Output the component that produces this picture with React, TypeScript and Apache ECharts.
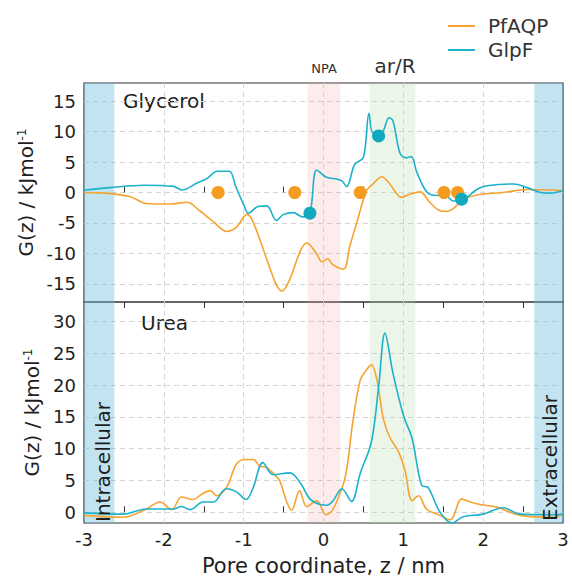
import React, { useEffect, useRef } from "react";
import * as echarts from "echarts";

// ---------- tick labels ----------
const xTickLabels = [-3, -2, -1, 0, 1, 2, 3];
const xGridValues = [-2, -1, 0, 1, 2];
const glyYTicks = [-15, -10, -5, 0, 5, 10, 15];
const ureaYTicks = [0, 5, 10, 15, 20, 25, 30];

// ---------- Glycerol, PfAQP ----------
const glyPfZ = [-3.0, -2.74, -2.42, -2.22, -1.92, -1.71, -1.55, -1.38, -1.21, -1.09, -0.96, -0.88, -0.71, -0.59, -0.52, -0.42, -0.29, -0.21, -0.085, -0.02, 0.05, 0.12, 0.25, 0.33, 0.42, 0.54, 0.62, 0.73, 0.83, 0.98, 1.08, 1.21, 1.33, 1.46, 1.55, 1.63, 1.75, 1.92, 2.25, 2.55, 2.88, 3.0];
const glyPfG = [0, -0.1, -0.7, -1.8, -1.9, -1.6, -3.0, -4.8, -6.4, -5.7, -3.6, -4.9, -11.0, -15.2, -16.2, -14.2, -9.6, -8.3, -10.1, -11.4, -10.9, -11.9, -12.6, -8.8, -4.8, 0.3, 1.4, 2.6, 1.4, -0.8, -0.3, 0.1, -1.6, -3.0, -3.1, -2.6, -1.2, -0.4, 0, 0.5, 0.4, 0.3];

// ---------- Glycerol, GlpF ----------
const glyGlpZ = [-3.0, -2.68, -2.25, -1.88, -1.77, -1.58, -1.46, -1.33, -1.18, -1.1, -1.0, -0.94, -0.82, -0.71, -0.59, -0.5, -0.38, -0.26, -0.17, -0.085, 0.04, 0.17, 0.23, 0.29, 0.39, 0.5, 0.57, 0.62, 0.73, 0.82, 0.87, 0.96, 1.04, 1.1, 1.17, 1.3, 1.43, 1.5, 1.63, 1.73, 1.92, 2.05, 2.38, 2.55, 2.72, 2.84, 3.0];
const glyGlpG = [0.4, 0.8, 1.2, 1.0, 0.4, 1.6, 2.3, 3.5, 3.5, 1.0, -2.0, -3.4, -2.3, -2.2, -4.6, -3.6, -3.3, -4.0, -3.4, 3.7, 2.5, 2.2, 1.9, 1.0, 4.6, 5.8, 13.0, 9.8, 9.9, 12.3, 11.8, 6.4, 5.7, 5.9, 3.3, 0, -0.5, -0.1, -1.4, -1.3, 0.5, 1.1, 1.4, 0.8, 0, -0.1, 0.3];

// ---------- Glycerol binding sites (dots) ----------
const glySitePfZ = [-1.32, -0.36, 0.46, 1.51, 1.68];
const glySitePfG = [0, 0, 0, 0, 0];
const glySiteGlpZ = [-0.17, 0.69, 1.73];
const glySiteGlpG = [-3.4, 9.3, -1.1];

// ---------- Urea, PfAQP ----------
const ureaPfZ = [-3.0, -2.51, -2.22, -2.05, -1.9, -1.78, -1.63, -1.53, -1.42, -1.34, -1.21, -1.09, -0.98, -0.88, -0.8, -0.71, -0.62, -0.55, -0.46, -0.4, -0.3, -0.21, -0.085, 0.03, 0.12, 0.25, 0.3, 0.37, 0.46, 0.52, 0.6, 0.67, 0.75, 0.83, 0.94, 1.02, 1.11, 1.19, 1.29, 1.46, 1.59, 1.73, 1.84, 1.96, 2.17, 2.46, 2.88, 3.0];
const ureaPfG = [-0.5, -0.8, 0.5, 1.6, 0.4, 2.4, 2.0, 2.8, 3.4, 2.6, 4.0, 7.6, 8.3, 8.3, 7.3, 7.0, 6.0, 5.0, 1.6, 0.3, 3.4, 0.9, 1.8, -0.4, 0.5, 4.5, 7.5, 14.5, 20.8, 22.1, 23.2, 20.8, 14.7, 11.8, 9.5, 6.6, 1.8, 2.6, 0.5, -0.5, -1.2, 2.1, 1.6, 1.2, 0.8, -0.5, -0.8, -0.3];

// ---------- Urea, GlpF ----------
const ureaGlpZ = [-3.0, -2.51, -2.22, -1.88, -1.78, -1.67, -1.51, -1.38, -1.22, -1.09, -0.97, -0.88, -0.76, -0.63, -0.42, -0.29, -0.17, -0.04, 0.04, 0.12, 0.23, 0.35, 0.46, 0.6, 0.69, 0.77, 0.87, 1.0, 1.11, 1.23, 1.31, 1.46, 1.61, 1.75, 2.0, 2.25, 2.46, 2.88, 3.0];
const ureaGlpG = [-0.1, -0.3, 0.5, 0.5, 0.9, 0.4, 1.6, 1.6, 3.7, 3.2, 2.0, 3.9, 7.8, 5.9, 6.2, 4.6, 2.1, 1.2, 1.1, 1.8, 3.7, 1.7, 6.1, 11.1, 19.7, 28.2, 21.9, 15.3, 11.6, 4.2, 3.9, 0, -1.7, -0.7, -0.3, 0.7, -0.3, -0.4, -0.3];

// ---------- Regions (pore coordinate, nm) ----------
const regionNames = ["Intracellular", "NPA", "ar/R", "Extracellular"];
const regionFrom = [-3.0, -0.2, 0.58, 2.64];
const regionTo = [-2.62, 0.21, 1.15, 3.0];

const ORANGE = "#f6a331";
const CYAN = "#1cb2cb";
const FONT = "DejaVu Sans";
const TXT = "#1e1e1e";
const regionColors = ["rgba(110,190,220,0.42)", "rgba(240,170,170,0.22)", "rgba(175,215,165,0.25)", "rgba(110,190,220,0.42)"];

const zip = (xs: number[], ys: number[]) => xs.map((x, i) => [x, ys[i]]);

const bandAreas = regionNames.map((n, i) => [
  { xAxis: regionFrom[i], itemStyle: { color: regionColors[i] } },
  { xAxis: regionTo[i] },
]);

export default function App() {
  const ref = useRef<HTMLDivElement>(null);
  useEffect(() => {
    if (!ref.current) return;
    const chart = echarts.init(ref.current, null, { renderer: "svg" });

    const gridLine = { show: true, lineStyle: { color: "#d4d4d4", type: [5, 4] as any, width: 1 } };
    const tickLabel = { fontSize: 18, color: TXT, fontFamily: FONT };

    const xAxis = (gridIndex: number, position: string, labels: boolean, split: boolean, extra: any = {}) => ({
      type: "value",
      gridIndex,
      position,
      min: -3,
      max: 3,
      interval: 1,
      axisLine: { show: false },
      axisTick: { show: false, inside: true, customValues: xGridValues },
      minorTick: { show: true, splitNumber: 2, length: 6, lineStyle: { color: "#333", width: 1 } },
      axisLabel: labels ? { ...tickLabel, customValues: xTickLabels, margin: 7 } : { show: false },
      splitLine: split ? gridLine : { show: false },
      ...extra,
    });

    const yName = "G(z) / kJmol{sup|-1}";
    const yNameStyle = {
      fontSize: 20,
      color: TXT,
      fontFamily: FONT,
      rich: { sup: { fontSize: 12, fontFamily: FONT, color: TXT, verticalAlign: "top", lineHeight: 10 } },
    };

    const option: any = {
      animation: false,
      backgroundColor: "#fff",
      textStyle: { fontFamily: FONT },
      legend: {
        data: ["PfAQP", "GlpF"],
        orient: "vertical",
        left: 443,
        top: 11,
        icon: "rect",
        itemWidth: 27,
        itemHeight: 2,
        itemGap: 4,
        textStyle: { fontSize: 20, color: "#333", fontFamily: FONT, padding: [0, 0, 0, 8] },
      },
      grid: [
        { left: 84, top: 83, width: 479, height: 219, show: true, borderColor: "#333", borderWidth: 1.2, backgroundColor: "transparent", outerBoundsMode: "none" },
        { left: 84, top: 302, width: 479, height: 221, show: true, borderColor: "#333", borderWidth: 1.2, backgroundColor: "transparent", outerBoundsMode: "none" },
      ],
      xAxis: [
        xAxis(0, "bottom", false, true),
        xAxis(1, "bottom", true, true, {
          name: "Pore coordinate, z / nm",
          nameLocation: "middle",
          nameGap: 32,
          nameTextStyle: { fontSize: 21, color: TXT, fontFamily: FONT },
        }),
        xAxis(1, "top", false, false),
      ],
      yAxis: [
        {
          type: "value",
          gridIndex: 0,
          min: -18,
          max: 18,
          axisLine: { show: false },
          axisTick: { show: false, customValues: glyYTicks },
          axisLabel: { ...tickLabel, customValues: glyYTicks, margin: 8 },
          splitLine: gridLine,
          name: yName,
          nameLocation: "middle",
          nameGap: 30,
          nameTextStyle: yNameStyle,
        },
        {
          type: "value",
          gridIndex: 1,
          min: -1.7,
          max: 33.1,
          axisLine: { show: false },
          axisTick: { show: false, customValues: ureaYTicks },
          axisLabel: { ...tickLabel, customValues: ureaYTicks, margin: 8 },
          splitLine: gridLine,
          name: yName,
          nameLocation: "middle",
          nameGap: 30,
          nameTextStyle: yNameStyle,
        },
      ],
      series: [
        {
          name: "PfAQP",
          type: "line",
          xAxisIndex: 0,
          yAxisIndex: 0,
          data: zip(glyPfZ, glyPfG),
          smooth: 0.35,
          showSymbol: false,
          lineStyle: { color: ORANGE, width: 1.6 },
          itemStyle: { color: ORANGE },
          markArea: { silent: true, data: bandAreas },
          z: 3,
        },
        {
          name: "GlpF",
          type: "line",
          xAxisIndex: 0,
          yAxisIndex: 0,
          data: zip(glyGlpZ, glyGlpG),
          smooth: 0.35,
          showSymbol: false,
          lineStyle: { color: CYAN, width: 1.6 },
          itemStyle: { color: CYAN },
          z: 4,
        },
        {
          name: "PfAQP sites",
          type: "scatter",
          xAxisIndex: 0,
          yAxisIndex: 0,
          data: zip(glySitePfZ, glySitePfG),
          symbolSize: 13,
          itemStyle: { color: "#f49c20", opacity: 1 },
          z: 5,
        },
        {
          name: "GlpF sites",
          type: "scatter",
          xAxisIndex: 0,
          yAxisIndex: 0,
          data: zip(glySiteGlpZ, glySiteGlpG),
          symbolSize: 13,
          itemStyle: { color: "#10a9be", opacity: 1 },
          z: 6,
        },
        {
          name: "PfAQP",
          type: "line",
          xAxisIndex: 1,
          yAxisIndex: 1,
          data: zip(ureaPfZ, ureaPfG),
          smooth: 0.35,
          showSymbol: false,
          lineStyle: { color: ORANGE, width: 1.6 },
          itemStyle: { color: ORANGE },
          markArea: { silent: true, data: bandAreas },
          z: 3,
        },
        {
          name: "GlpF",
          type: "line",
          xAxisIndex: 1,
          yAxisIndex: 1,
          data: zip(ureaGlpZ, ureaGlpG),
          smooth: 0.35,
          showSymbol: false,
          lineStyle: { color: CYAN, width: 1.6 },
          itemStyle: { color: CYAN },
          z: 4,
        },
      ],
      graphic: [
        { type: "text", x: 123, y: 101, style: { text: "Glycerol", fontSize: 20, fontFamily: FONT, fill: TXT, align: "left", verticalAlign: "middle" } },
        { type: "text", x: 141, y: 323, style: { text: "Urea", fontSize: 20, fontFamily: FONT, fill: TXT, align: "left", verticalAlign: "middle" } },
        { type: "text", x: 324, y: 68, style: { text: regionNames[1], fontSize: 13, fontFamily: FONT, fill: "#333", align: "center", verticalAlign: "middle" } },
        { type: "text", x: 395, y: 66, style: { text: regionNames[2], fontSize: 20, fontFamily: FONT, fill: "#333", align: "center", verticalAlign: "middle" } },
        { type: "text", x: 103, y: 462, rotation: Math.PI / 2, style: { text: regionNames[0], fontSize: 20, fontFamily: FONT, fill: TXT, align: "center", verticalAlign: "middle" }, z: 10 },
        { type: "text", x: 550, y: 458, rotation: Math.PI / 2, style: { text: regionNames[3], fontSize: 20, fontFamily: FONT, fill: TXT, align: "center", verticalAlign: "middle" }, z: 10 },
      ],
    };

    chart.setOption(option);
    return () => chart.dispose();
  }, []);

  return <div ref={ref} style={{ position: "fixed", left: 0, top: 0, width: 572, height: 579, background: "#fff" }} />;
}
